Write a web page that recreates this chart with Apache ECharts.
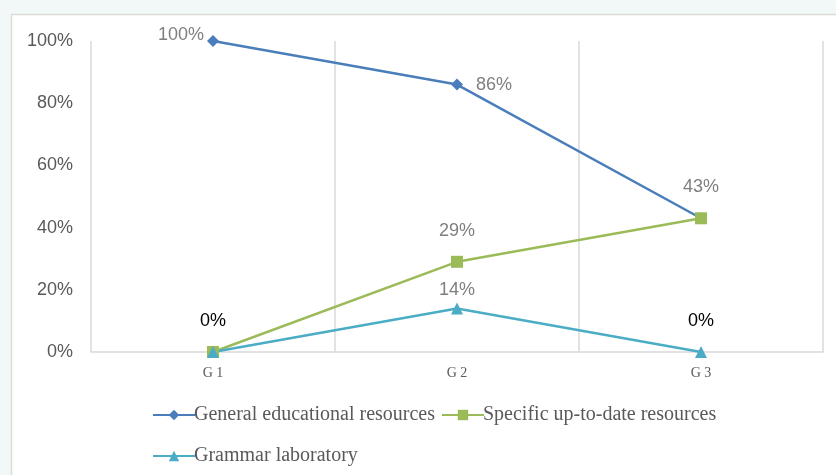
<!DOCTYPE html>
<html><head><meta charset="utf-8">
<script src="https://cdn.jsdelivr.net/npm/echarts@6/dist/echarts.min.js"></script>
<style>html,body{margin:0;padding:0;background:#f2f7f8;}#c{width:836px;height:475px;}</style>
</head><body><div id="c"></div>
<script>
const categories = ['G 1', 'G 2', 'G 3'];
const generalEdu = [1.00, 0.86, 0.43];
const specificUpToDate = [0.00, 0.29, 0.43];
const grammarLab = [0.00, 0.14, 0.00];
const seriesNames = ['General educational resources', 'Specific up-to-date resources', 'Grammar laboratory'];

const gray = '#7f7f7f';
const pct = v => Math.round(v * 100) + '%';
const lblFont = {fontFamily: 'Liberation Sans', fontSize: 18};

const chart = echarts.init(document.getElementById('c'));
chart.setOption({
  backgroundColor: '#f2f7f8',
  animation: false,
  graphic: [{type: 'rect', z: -10, shape: {x: 11.5, y: 14.5, width: 840, height: 480}, style: {fill: '#fff', stroke: '#dedad6', lineWidth: 1.5}}],
  grid: {left: 91, right: 13, top: 41, bottom: 123},
  legend: [
    {data: [seriesNames[0], seriesNames[1]], left: 147, top: 400, itemWidth: 42, itemHeight: 13, itemGap: 6,
     textStyle: {fontFamily: 'Liberation Serif', fontSize: 20, color: '#595959', padding: [0, 0, 0, -6]}},
    {data: [seriesNames[2]], left: 147, top: 441, itemWidth: 42, itemHeight: 13, itemGap: 6,
     textStyle: {fontFamily: 'Liberation Serif', fontSize: 20, color: '#595959', padding: [0, 0, 0, -6]}}
  ],
  xAxis: {type: 'category', data: categories, boundaryGap: true,
    axisLine: {lineStyle: {color: '#d9d9d9', width: 1.5}}, axisTick: {show: false},
    axisLabel: {fontFamily: 'Liberation Serif', fontSize: 14, color: '#595959', margin: 14},
    splitLine: {show: true, lineStyle: {color: '#d9d9d9', width: 1.5}}},
  yAxis: {type: 'value', min: 0, max: 1, interval: 0.2,
    axisLine: {show: false}, axisTick: {show: false}, splitLine: {show: false},
    axisLabel: {formatter: pct, fontFamily: 'Liberation Sans', fontSize: 18, color: '#595959', margin: 18}},
  series: [
    {name: seriesNames[0], type: 'line', color: '#4a7ebb', symbol: 'diamond', symbolSize: 12,
     lineStyle: {width: 2.5},
     data: generalEdu.map((v, i) => ({value: v, label: [
       {show: true, position: 'left', distance: 3, offset: [0, -6], color: gray},
       {show: true, position: 'right', distance: 13, color: gray},
       {show: false}][i]})),
     label: Object.assign({formatter: p => pct(p.value)}, lblFont)},
    {name: seriesNames[1], type: 'line', color: '#9bbb59', symbol: 'rect', symbolSize: 12,
     lineStyle: {width: 2.5},
     data: specificUpToDate.map((v, i) => ({value: v, label: [
       {show: false},
       {show: true, position: 'top', distance: 16, color: gray},
       {show: true, position: 'top', distance: 16, color: gray}][i]})),
     label: Object.assign({formatter: p => pct(p.value)}, lblFont)},
    {name: seriesNames[2], type: 'line', color: '#4bacc6', symbol: 'triangle', symbolSize: 12,
     lineStyle: {width: 2.5},
     data: grammarLab.map((v, i) => ({value: v, label: [
       {show: true, position: 'top', distance: 16, color: '#000'},
       {show: true, position: 'top', distance: 3, color: gray},
       {show: true, position: 'top', distance: 16, color: '#000'}][i]})),
     label: Object.assign({formatter: p => pct(p.value)}, lblFont)}
  ]
});
</script></body></html>
